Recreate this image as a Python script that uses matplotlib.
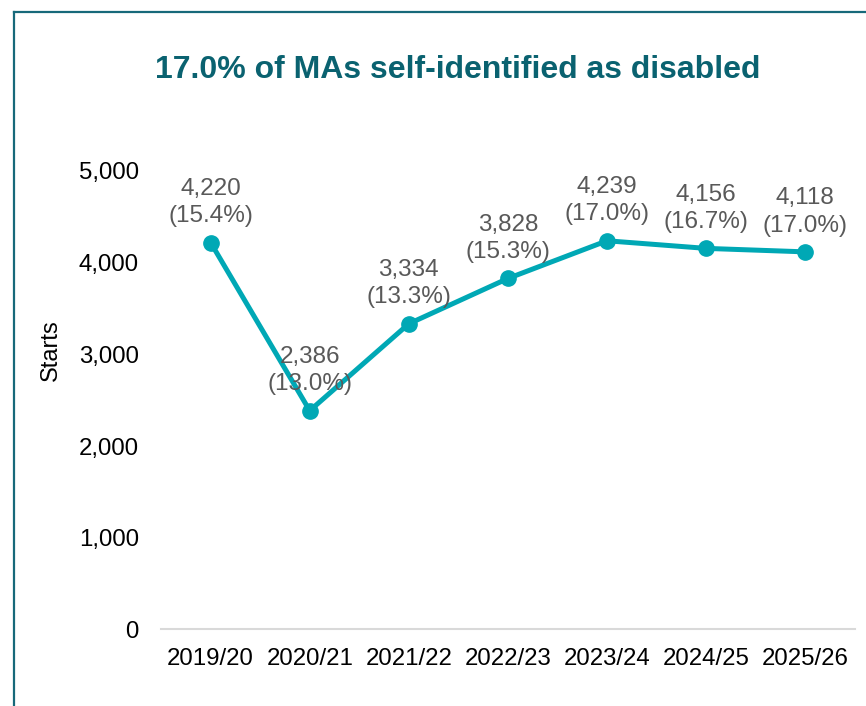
import matplotlib.pyplot as plt
import matplotlib.lines as mlines

plt.rcParams['font.family'] = ['Liberation Sans', 'DejaVu Sans']

# Data
years = ["2019/20", "2020/21", "2021/22", "2022/23", "2023/24", "2024/25", "2025/26"]
starts = [4220, 2386, 3334, 3828, 4239, 4156, 4118]
share_pct = [15.4, 13.0, 13.3, 15.3, 17.0, 16.7, 17.0]

line_col = '#00A8B5'
title_col = '#0A6270'
border_col = '#17697A'

fig = plt.figure(figsize=(8.66, 7.06), dpi=100)
fig.patch.set_facecolor('white')
ax = fig.add_axes([0.186, 0.1084, 0.801, 0.6494])

x = list(range(len(years)))
ax.plot(x, starts, color=line_col, lw=3.6, marker='o', markersize=11,
        solid_capstyle='round', zorder=3)

# data labels: value and share
for xi, v, p in zip(x, starts, share_pct):
    ax.annotate(f"{v:,}\n({p:.1f}%)", xy=(xi, v), xytext=(0, 11),
                textcoords='offset points', ha='center', va='bottom',
                fontsize=17.5, color='#595959', linespacing=1.3,
                annotation_clip=False, zorder=4)

ax.set_xlim(-0.5, len(years) - 0.5)
ax.set_ylim(0, 5000)
ax.set_xticks(x)
ax.set_xticklabels(years)
ax.set_yticks([0, 1000, 2000, 3000, 4000, 5000])
ax.set_yticklabels([f"{t:,}" for t in [0, 1000, 2000, 3000, 4000, 5000]])
ax.tick_params(axis='both', length=0, labelsize=17.3, colors='black')
ax.tick_params(axis='x', pad=13)
ax.tick_params(axis='y', pad=16)

for s in ['top', 'right', 'left']:
    ax.spines[s].set_visible(False)
ax.spines['bottom'].set_color('#D9D9D9')
ax.spines['bottom'].set_linewidth(1.5)

ax.set_ylabel("Starts", fontsize=17, color='black')
ax.yaxis.set_label_coords(-0.143, 0.61)

# title
fig.text(0.528, 0.901, "17.0% of MAs self-identified as disabled",
         ha='center', va='center', fontsize=23, fontweight='bold', color=title_col)

# chart frame (only top and left visible in the crop)
fig.add_artist(mlines.Line2D([14/866, 14/866], [0, 1 - 12/706], color=border_col,
                             lw=1.6, transform=fig.transFigure))
fig.add_artist(mlines.Line2D([14/866, 1], [1 - 12/706, 1 - 12/706], color=border_col,
                             lw=1.6, transform=fig.transFigure))

fig.savefig('out.png', dpi=100, facecolor='white')
